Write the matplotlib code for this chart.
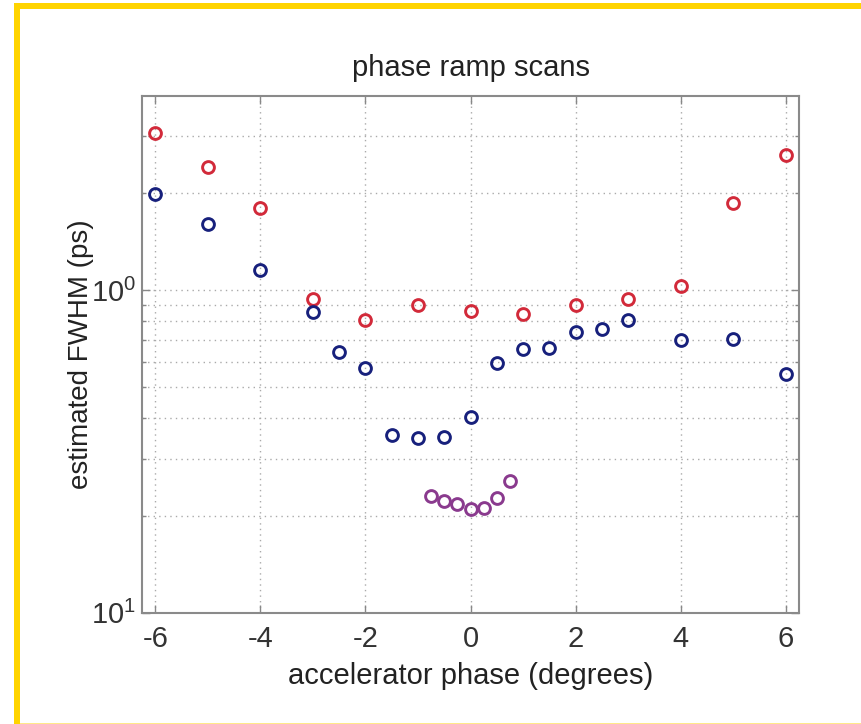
import numpy as np
import matplotlib
matplotlib.use("Agg")
import matplotlib.pyplot as plt
from matplotlib.ticker import FixedLocator, FixedFormatter, NullFormatter
from matplotlib.patches import Rectangle

plt.rcParams['font.family'] = ['Liberation Sans', 'DejaVu Sans']

# red series (1-degree steps)
red_x = [-6, -5, -4, -3, -2, -1, 0, 1, 2, 3, 4, 5, 6]
red_y = [3.07, 2.41, 1.80, 0.936, 0.807, 0.899, 0.863, 0.845, 0.90, 0.936, 1.027, 1.86, 2.62]

# blue series
blue_x = [-6, -5, -4, -3, -2.5, -2, -1.5, -1, -0.5, 0, 0.5, 1, 1.5, 2, 2.5, 3, 4, 5, 6]
blue_y = [1.98, 1.605, 1.153, 0.857, 0.641, 0.573, 0.355, 0.348, 0.351, 0.404,
          0.593, 0.658, 0.663, 0.739, 0.759, 0.807, 0.702, 0.703, 0.549]

# purple series (fine scan near zero)
purple_x = [-0.75, -0.5, -0.25, 0, 0.25, 0.5, 0.75]
purple_y = [0.2295, 0.222, 0.217, 0.2096, 0.211, 0.227, 0.256]

x_ticks = [-6, -4, -2, 0, 2, 4, 6]
y_major = [0.1, 1.0]
y_major_labels = [r'$\mathregular{10^1}$', r'$\mathregular{10^0}$']
y_minor = [0.2, 0.3, 0.4, 0.5, 0.6, 0.7, 0.8, 0.9, 2, 3]

fig = plt.figure(figsize=(8.62, 7.24), dpi=100)

# yellow frame
fig.patches.append(Rectangle((14 / 862, 0), 6 / 862, 1 - 3 / 724, transform=fig.transFigure,
                             facecolor='#ffd400', edgecolor='none'))
fig.patches.append(Rectangle((14 / 862, 1 - 9 / 724), 1, 6 / 724, transform=fig.transFigure,
                             facecolor='#ffd400', edgecolor='none'))
fig.patches.append(Rectangle((20 / 862, 0), 1, 1.5 / 724, transform=fig.transFigure,
                             facecolor='#ffe98a', edgecolor='none'))

ax = fig.add_axes([0.1644, 0.1537, 0.7629, 0.7141])

mk = dict(linestyle='none', marker='o', markersize=8.5, markerfacecolor='none', markeredgewidth=2.1)
ax.plot(red_x, red_y, color='#d22a3a', **mk)
ax.plot(blue_x, blue_y, color='#17207c', **mk)
ax.plot(purple_x, purple_y, color='#8a3a8e', **mk)

ax.set_yscale('log')
ax.set_xlim(-6.26, 6.26)
ax.set_ylim(0.1, 4.0)

ax.xaxis.set_major_locator(FixedLocator(x_ticks))
ax.set_xticklabels([str(t) for t in x_ticks])
ax.yaxis.set_major_locator(FixedLocator(y_major))
ax.yaxis.set_major_formatter(FixedFormatter(y_major_labels))
ax.yaxis.set_minor_locator(FixedLocator(y_minor))
ax.yaxis.set_minor_formatter(NullFormatter())

ax.tick_params(which='both', direction='in', top=True, right=True,
               color='#888888', labelsize=21, labelcolor='#333333')
ax.tick_params(axis='x', pad=9)
ax.tick_params(axis='y', pad=4)
ax.tick_params(which='major', length=6, width=1)
ax.tick_params(which='minor', length=3, width=1)

ax.grid(True, which='major', linestyle=(0, (1, 3)), color='#aaaaaa', linewidth=1)
ax.grid(True, which='minor', axis='y', linestyle=(0, (1, 3)), color='#aaaaaa', linewidth=1)

for s in ax.spines.values():
    s.set_color('#8a8a8a')
    s.set_linewidth(1.5)

ax.set_title('phase ramp scans', fontsize=21, pad=14, color='#222222')
ax.set_xlabel('accelerator phase (degrees)', fontsize=21, color='#222222', labelpad=6)
ax.set_ylabel('estimated FWHM (ps)', fontsize=20, color='#222222', labelpad=-2)

fig.savefig('out.png', dpi=100)
